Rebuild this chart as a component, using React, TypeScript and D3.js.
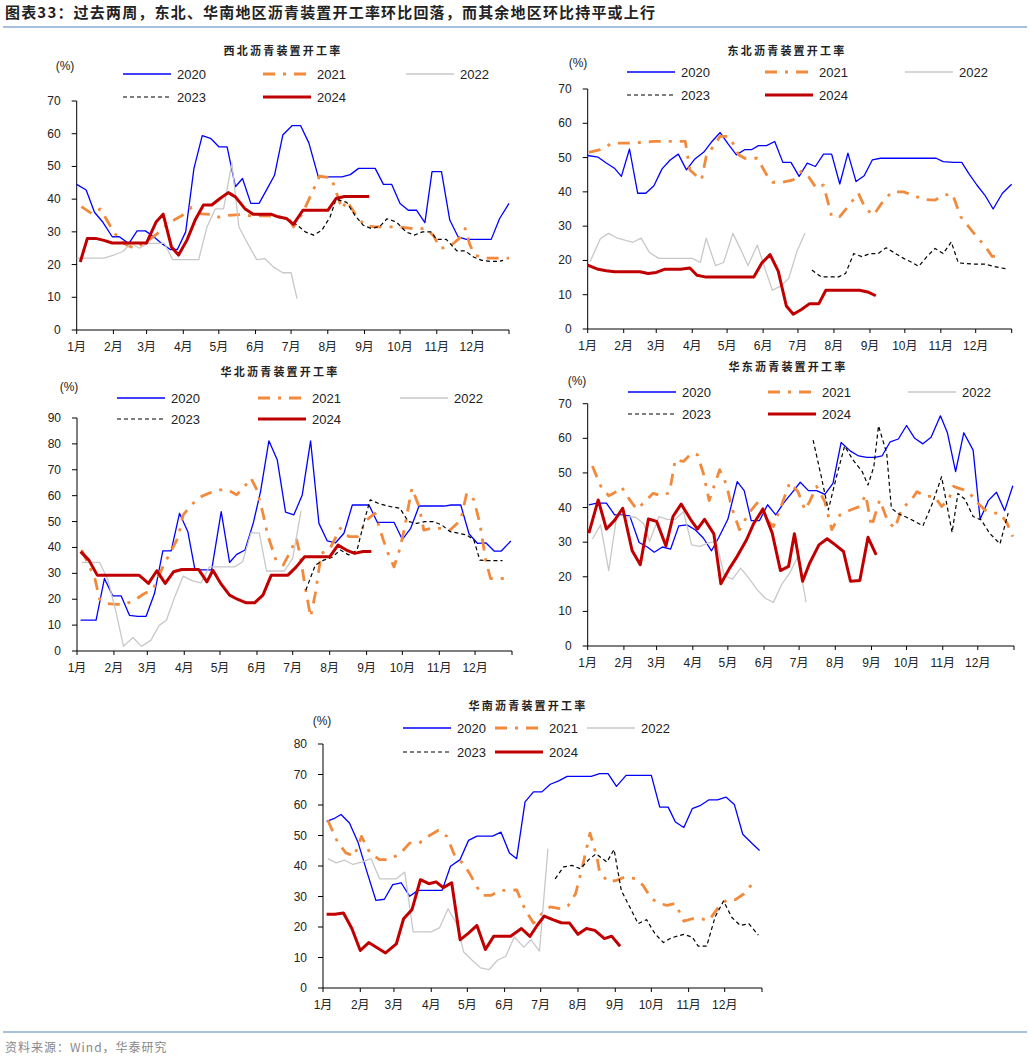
import React from 'react';
import * as d3 from 'd3';

// month axis: labels + day-of-year where each month starts
const monthLabels = ['1月', '2月', '3月', '4月', '5月', '6月', '7月', '8月', '9月', '10月', '11月', '12月'];
const monthStartDays = [0, 31, 59, 90, 120, 151, 181, 212, 243, 273, 304, 334, 365];
const years = ['2020', '2021', '2022', '2023', '2024'];

type Pt = [number, number]; // [day of year, rate %]

// 西北
const nw2020: Pt[] = [[0,44.5],[8,42.8],[15,36],[22,33],[30,28.5],[36,28.5],[44,26.4],[51,30.3],[58,30.3],[65,28.5],[72,26.4],[79,24.6],[85,24.6],[92,30],[99,49.4],[106,59.4],[113,58.6],[120,56],[127,56],[134,43.8],[140,46.3],[147,38.7],[154,38.7],[161,43.3],[167,47.3],[174,59.6],[182,62.5],[189,62.5],[196,57.2],[204,46.8],[211,46.8],[217,46.8],[224,46.8],[231,47.5],[238,49.4],[245,49.4],[252,49.4],[259,44.5],[266,44.5],[273,38.7],[280,36.6],[287,36.6],[294,32.8],[300,48.4],[308,48.4],[315,33.6],[322,28.5],[329,27.7],[336,27.7],[343,27.7],[350,27.7],[357,34],[365,38.7]];
const nw2021: Pt[] = [[4,37.7],[13,35.5],[20,37],[28,32],[35,28],[42,26],[49,25],[59,27],[70,30],[79,33],[89,35],[97,37.5],[105,35.5],[115,35.3],[120,34.5],[127,35],[138,35.3],[149,34.8],[160,35],[172,34.5],[180,33.5],[183,31.5],[191,36],[200,43],[205,47],[215,46.5],[224,37],[228,39.5],[235,35.5],[243,32],[252,31.5],[262,31.5],[273,31.5],[284,31],[294,31],[301,29],[307,25],[315,25.5],[323,28],[328,31],[332,26],[336,23],[343,22],[354,22],[365,22]];
const nw2022: Pt[] = [[0,22],[7,22],[15,22],[23,22],[32,23],[39,24],[46,26.5],[53,25],[60,26.5],[67,26.5],[74,26.5],[81,21.5],[88,21.5],[95,21.5],[103,21.5],[110,31.5],[117,37],[124,37],[131,51],[137,31.5],[145,26],[152,21.5],[159,21.8],[166,19.3],[174,17.5],[181,17.5],[186,9.6]];
const nw2023: Pt[] = [[183,33],[193,30],[200,29],[207,30.5],[214,34.6],[219,40],[228,39],[235,35],[242,32],[249,31],[256,31.7],[262,34],[270,33],[278,30],[285,29],[292,30],[299,30],[304,27.7],[312,27.7],[321,24.2],[328,24.2],[335,22.3],[342,21.3],[349,21],[357,21],[360,21.3]];
const nw2024: Pt[] = [[3,20.8],[9,28],[16,28],[23,27.4],[30,26.6],[37,26.6],[44,26.6],[51,26.6],[59,26.6],[67,33],[73,35.4],[80,25.4],[86,22.9],[93,27.4],[100,33.6],[107,38.2],[114,38.2],[121,40.2],[128,42],[134,40.7],[142,37.1],[149,35.4],[156,35.4],[164,35.4],[170,34.6],[177,34.1],[183,32.3],[191,36.6],[198,36.6],[205,36.6],[212,36.6],[219,40.2],[226,40.8],[233,40.8],[240,40.8],[247,40.8]];

// 东北
const ne2020: Pt[] = [[0,50.6],[9,50.1],[16,48.4],[23,46.9],[29,44.5],[36,52.5],[43,39.6],[50,39.6],[57,41.8],[64,46.7],[71,49.3],[78,51],[85,46.4],[92,49.5],[100,51.6],[107,54.7],[114,57.3],[121,53.9],[128,50.8],[135,52.3],[141,52.3],[147,53.5],[154,53.5],[161,54.7],[168,48.6],[175,48.6],[182,44.5],[189,48.4],[196,47.4],[203,51],[210,51],[217,42.3],[224,51.3],[231,43],[238,44.7],[245,49.3],[252,49.8],[259,49.8],[266,49.8],[273,49.8],[280,49.8],[287,49.8],[294,49.8],[300,49.8],[306,48.8],[315,48.6],[322,48.6],[328,45.4],[335,42],[342,39],[349,35],[357,39.6],[365,42.2]];
const ne2021: Pt[] = [[1,51.5],[11,52.3],[21,54.2],[34,54.2],[45,54.4],[57,54.7],[65,54.7],[75,54.7],[84,54.7],[88,46.4],[94,44.5],[98,43.5],[102,50.3],[108,53.2],[114,56.2],[121,56.2],[125,54.2],[130,50.8],[135,49.8],[146,49.8],[154,45],[159,42.8],[168,42.8],[177,43.5],[184,46],[190,44.5],[197,41],[203,42],[210,32.8],[217,32.8],[224,35.7],[233,39.6],[239,35.2],[246,33.2],[255,37.6],[262,40],[272,40],[280,39],[289,37.8],[299,37.6],[306,39],[314,39.4],[321,32.8],[328,29.8],[335,26.9],[342,24.2],[348,21.2],[355,21.2]];
const ne2022: Pt[] = [[2,19.6],[11,26.4],[18,27.9],[25,26.6],[32,25.9],[39,25.3],[46,26.5],[53,22.4],[61,20.6],[68,20.6],[75,20.6],[82,20.6],[90,20.6],[97,19.4],[102,26.5],[110,18.5],[117,19.4],[125,27.9],[132,23],[138,18.5],[146,24.5],[153,17.2],[159,11.3],[166,12.5],[173,14.7],[180,22.5],[187,27.9]];
const ne2023: Pt[] = [[193,17.2],[201,15.2],[209,15.2],[216,15.2],[222,16.2],[229,22],[236,21.1],[243,22],[250,22],[257,23.7],[265,22],[272,20.6],[278,19.6],[285,18.3],[292,21.1],[299,23.5],[306,22],[313,25.4],[319,19.3],[326,19.1],[333,18.9],[342,18.9],[349,18.3],[356,17.8],[362,17.5]];
const ne2024: Pt[] = [[0,18.6],[9,17.4],[16,17],[23,16.7],[30,16.7],[37,16.7],[45,16.7],[52,16.2],[59,16.5],[66,17.4],[73,17.4],[80,17.4],[88,17.8],[94,15.7],[101,15.2],[108,15.2],[115,15.2],[123,15.2],[130,15.2],[137,15.2],[143,15.2],[150,19.3],[157,21.7],[164,16.9],[171,6.7],[177,4.3],[184,5.7],[191,7.4],[199,7.4],[205,11.3],[212,11.3],[220,11.3],[227,11.3],[234,11.3],[241,10.8],[248,9.7]];

// 华北
const nc2020: Pt[] = [[3,11.9],[10,11.9],[16,11.9],[23,28],[30,21.3],[37,21.3],[44,13.8],[51,13.4],[58,13.4],[65,22.2],[72,38.7],[79,38.7],[86,53.2],[93,46.1],[99,31.3],[106,31.3],[113,31.3],[121,53.8],[128,34.2],[134,37.3],[141,39],[148,49.6],[154,61.6],[161,81.2],[168,73.9],[175,53.6],[182,52.6],[189,60.3],[196,81.2],[203,49.3],[210,42.5],[217,41.8],[224,45.5],[231,56.4],[238,56.4],[245,56.4],[252,49.7],[259,49.7],[266,49.7],[273,43.1],[280,47.4],[287,56],[294,56],[301,56],[308,56],[314,56.4],[322,56.4],[329,45.2],[336,41.6],[343,41.8],[350,38.6],[356,38.6],[364,42.5]];
const nc2021: Pt[] = [[4,39],[8,35],[15,28],[19,20],[25,18.3],[33,18],[40,18],[48,19.6],[56,22],[64,24],[72,32.5],[78,37.7],[85,44],[89,52.5],[96,56.4],[103,59.4],[111,61],[118,62.2],[127,62.2],[134,60.3],[141,63.8],[146,66.8],[151,62.2],[156,53.2],[160,44.8],[167,35],[173,33.2],[179,38.4],[184,43.5],[187,37.7],[191,26],[196,13.2],[200,22.2],[205,37.7],[212,39.3],[221,47.4],[228,44.2],[236,44.2],[243,50.6],[250,53.2],[257,42.9],[261,37.7],[266,32.5],[271,39.6],[275,48],[281,62.9],[287,55.8],[291,46.7],[298,47.4],[305,47.4],[313,46.7],[322,50.6],[327,61],[333,58.4],[338,49.3],[343,35],[347,28],[354,28],[362,28]];
const nc2022: Pt[] = [[4,34.2],[11,34.2],[19,34.2],[26,27.4],[33,14.5],[39,1.8],[47,5.2],[54,1.8],[62,4.1],[69,9.9],[75,11.9],[82,20.9],[89,28.9],[97,27.1],[104,26.3],[111,32.5],[118,32.5],[125,32.5],[132,32.5],[139,34.5],[146,45.7],[153,45.5],[159,30.9],[167,30.9],[174,30.9],[181,35.8],[188,54.2]];
const nc2023: Pt[] = [[192,23.5],[200,33.2],[207,35.1],[214,36.2],[221,39],[228,37.1],[235,39],[242,51.9],[246,58.4],[254,56.8],[263,55.8],[271,55.1],[278,50],[285,49.3],[292,50],[299,50],[306,48.7],[313,46.1],[320,45.5],[327,44.8],[333,42.9],[338,35.1],[345,34.9],[352,34.9],[357,34.9]];
const nc2024: Pt[] = [[3,38.4],[10,35.1],[17,29.3],[24,29.3],[31,29.3],[38,29.3],[45,29.3],[52,29.3],[60,26.1],[67,31],[74,26.1],[81,30.6],[88,31.5],[95,31.5],[102,31.5],[109,26.7],[114,31.2],[121,25.8],[128,21.6],[135,19.9],[142,18.6],[149,18.6],[156,21.6],[163,29.3],[170,29.3],[177,29.3],[184,32.5],[191,36.4],[198,36.4],[205,36.4],[212,36.4],[219,40.9],[226,39],[233,37.7],[240,38.4],[247,38.4]];

// 华东
const ec2020: Pt[] = [[1,40.8],[8,41.3],[16,41.3],[23,37.9],[29,37.9],[36,37.6],[44,29.9],[51,28.6],[57,27.1],[64,28.6],[71,28],[78,34.7],[85,35],[92,33.6],[99,31.2],[106,27.5],[112,31.2],[120,36.6],[128,47.5],[134,44.9],[140,36.2],[147,36.2],[154,40.8],[161,37.9],[168,41.4],[175,44.3],[182,47.3],[189,44.9],[196,44.9],[203,43.8],[210,47],[217,58.8],[225,56.3],[232,54.9],[239,54.5],[246,54.5],[252,54.9],[259,59],[266,59.8],[273,63.7],[280,60],[287,58.4],[294,60.3],[302,66.5],[308,61.6],[315,50.4],[322,61.6],[330,56.6],[336,36.6],[343,42],[350,44.4],[357,39.1],[364,46.3]];
const ec2021: Pt[] = [[4,52],[11,46.3],[18,43.4],[23,44.3],[29,45.9],[36,42.2],[42,39.5],[49,41.7],[56,44.1],[63,43.4],[70,44.3],[75,53.9],[82,53.3],[89,55.7],[94,55.2],[99,49.9],[104,42],[109,47],[113,50.9],[119,46.5],[123,40.3],[130,33.6],[138,38.4],[145,41.3],[152,36.9],[159,34.5],[165,39.8],[173,47.2],[180,44.6],[186,39.3],[190,41.7],[196,46.1],[203,41.7],[209,33.6],[216,37.9],[225,39.3],[233,40.3],[238,43.7],[243,34.5],[250,42.2],[257,36],[263,34],[269,39.8],[276,41.7],[282,44.6],[289,43.2],[297,43.2],[303,40.3],[309,42.2],[313,46.1],[322,45.1],[327,44.1],[334,41.3],[340,39.3],[347,38.4],[353,38.4],[359,35.5],[364,31.6]];
const ec2022: Pt[] = [[4,30.9],[11,35],[18,21.8],[25,37.9],[33,37.4],[41,37.2],[48,35.3],[53,30.2],[61,37.4],[68,36.6],[75,36.6],[82,38.8],[89,29.2],[96,28.8],[103,29.7],[110,30.2],[117,20.3],[124,19.3],[131,22.5],[138,19.6],[145,16.3],[152,13.8],[159,12.6],[166,17.7],[173,21.1],[180,25.9],[187,12.6]];
const ec2023: Pt[] = [[193,59.5],[200,48.9],[206,39.3],[213,48.9],[220,57.8],[227,53.8],[235,50.4],[240,46.5],[245,51.8],[249,63.6],[256,55.7],[260,39.8],[266,38.2],[273,37.2],[280,36],[287,34.7],[295,41.1],[303,48.9],[312,32.8],[317,44.1],[323,42.4],[330,37.4],[337,36.4],[344,32.6],[353,29.5],[360,38.4]];
const ec2024: Pt[] = [[1,32.6],[9,42.2],[16,33.8],[23,36.3],[30,39.8],[38,27.6],[45,23.5],[52,36.7],[59,36],[67,28.9],[73,37.4],[80,41],[88,36.6],[94,33.8],[100,36.6],[108,32.4],[114,18],[121,22.2],[128,25.9],[136,30.7],[142,35.3],[150,39.6],[158,32.6],[165,21.8],[172,23],[177,32.4],[184,18.7],[190,23.9],[198,29.2],[205,31],[212,29.2],[219,27.3],[225,18.7],[233,18.9],[240,31.4],[247,26.3]];

// 华南
const sc2020: Pt[] = [[3,54.6],[9,55.5],[15,56.9],[22,54.1],[29,47.9],[37,37.5],[44,28.7],[51,29.1],[58,33.9],[65,34.5],[72,30.1],[79,32],[86,32],[93,32],[99,32],[106,39.9],[114,42.1],[121,48.4],[128,49.8],[135,49.8],[141,49.8],[148,51.1],[155,44.3],[161,42.4],[168,61],[175,64.3],[182,64.3],[189,66.8],[196,67.9],[203,69.4],[210,69.4],[217,69.4],[223,69.4],[230,70.3],[237,70.3],[244,66.1],[252,69.7],[259,69.7],[266,69.7],[273,69.7],[280,59.3],[287,59.3],[293,54.4],[300,52.6],[307,58.8],[314,59.9],[321,61.7],[328,61.7],[335,62.6],[342,60.2],[349,50.4],[357,47.3],[363,45.1]];
const sc2021: Pt[] = [[4,55],[12,47.9],[19,44.3],[26,43.2],[32,49.7],[39,44.3],[47,42.1],[55,42.1],[64,44],[72,47.5],[80,47.5],[89,50.1],[96,51.7],[103,49.7],[110,42.9],[116,41],[122,37.5],[128,33.1],[133,30.4],[140,30.4],[147,32],[154,32],[161,32.2],[168,25.7],[175,21.3],[182,24.4],[189,26.6],[197,26],[204,27.1],[210,30.9],[215,38.6],[222,50.8],[228,42.4],[230,38],[237,34.8],[244,35.3],[251,36.4],[260,35.8],[266,33.7],[273,29.3],[280,27.7],[286,27.1],[293,27.7],[300,21.9],[307,22.7],[314,22.7],[321,22.2],[329,26.6],[336,29],[343,29],[350,30.9],[357,34.2],[362,34.2]];
const sc2022: Pt[] = [[4,42.4],[11,41],[18,41.9],[25,40.5],[32,41.3],[40,42.4],[47,35.8],[54,35.8],[61,35.8],[68,38],[75,18.4],[83,18.4],[90,18.4],[97,19.8],[104,26],[111,21.1],[117,11.8],[124,9.1],[131,6.6],[138,6],[145,9.1],[152,10.4],[159,16.7],[167,13.4],[173,15.8],[180,12.1],[187,45.7]];
const sc2023: Pt[] = [[193,35.8],[200,39.7],[207,40.2],[214,39.1],[221,42.1],[227,44],[236,41.3],[242,45.4],[248,32],[255,26.6],[262,21.1],[269,22.4],[276,17.8],[283,14.9],[290,16.5],[300,17.6],[307,16.7],[312,13.7],[319,13.7],[326,23.3],[333,28.5],[340,23.1],[347,20.5],[354,21.1],[362,17.3]];
const sc2024: Pt[] = [[3,24.2],[10,24.2],[17,24.6],[24,19.5],[31,12.3],[38,14.9],[45,13.2],[52,11.5],[61,14.5],[67,22.7],[74,25.7],[81,35.5],[88,34.2],[94,34.8],[100,32.9],[107,34.5],[114,15.8],[121,18],[128,20.5],[135,12.6],[142,17],[149,17],[156,17],[165,19.5],[172,16.9],[178,20.5],[184,23.6],[191,22.4],[198,21.4],[205,21.3],[212,17.6],[219,19.5],[226,18.9],[234,16.2],[240,17],[247,13.7]];

const styles: Record<string, { color: string; width: number; dash?: string; legendLen: number }> = {
  '2020': { color: '#0000FF', width: 1.3, legendLen: 48 },
  '2021': { color: '#F28A3D', width: 2.8, dash: '12,8,3,8', legendLen: 43 },
  '2022': { color: '#C8C8C8', width: 1.3, legendLen: 48 },
  '2023': { color: '#000000', width: 1.2, dash: '4,3', legendLen: 48 },
  '2024': { color: '#C00000', width: 3, legendLen: 48 },
};

const FONT = "'Liberation Sans', Arial, 'Noto Sans CJK SC', sans-serif";
const CJK = "'Noto Sans CJK SC', sans-serif";

interface PanelProps {
  title: string;
  series: Pt[][];
  yMax: number;
  left: number; right: number; top: number; bottom: number;
  titleX: number; titleY: number;
  pctX: number; pctY: number;
  legendCols: number[]; legendRows: number[];
}

const Panel = (p: PanelProps) => {
  const x = d3.scaleLinear().domain([0, 365]).range([p.left, p.right]);
  const y = d3.scaleLinear().domain([0, p.yMax]).range([p.bottom, p.top]);
  const line = d3.line<Pt>().x(d => x(d[0])).y(d => y(d[1]));
  const yTicks = d3.range(0, p.yMax + 1, 10);

  const legendPos = [
    [p.legendCols[0], p.legendRows[0]],
    [p.legendCols[1], p.legendRows[0]],
    [p.legendCols[2], p.legendRows[0]],
    [p.legendCols[0], p.legendRows[1]],
    [p.legendCols[1], p.legendRows[1]],
  ];

  return (
    <g>
      <text x={p.titleX} y={p.titleY + 4} textAnchor="middle" fontFamily={CJK} fontSize={11}
        fontWeight="bold" letterSpacing={2.2} fill="#222">{p.title}</text>
      <text x={p.pctX} y={p.pctY + 4} textAnchor="middle" fontFamily={FONT} fontSize={12} fill="#222">(%)</text>

      {years.map((yr, i) => {
        const s = styles[yr];
        const [lx, ly] = legendPos[i];
        return (
          <g key={yr}>
            <line x1={lx} x2={lx + s.legendLen} y1={ly} y2={ly} stroke={s.color} strokeWidth={s.width}
              strokeDasharray={s.dash} />
            <text x={lx + 54} y={ly + 5} fontFamily={FONT} fontSize={13} fill="#222">{yr}</text>
          </g>
        );
      })}

      {/* y axis */}
      <line x1={p.left} x2={p.left} y1={p.top} y2={p.bottom} stroke="#000" strokeWidth={1} />
      {yTicks.map(t => (
        <g key={t}>
          <line x1={p.left - 5} x2={p.left} y1={y(t)} y2={y(t)} stroke="#000" />
          <text x={p.left - 16} y={y(t) + 4} textAnchor="end" fontFamily={FONT} fontSize={12} fill="#222">{t}</text>
        </g>
      ))}

      {/* x axis */}
      <line x1={p.left} x2={p.right} y1={p.bottom} y2={p.bottom} stroke="#000" strokeWidth={1} />
      {monthStartDays.map(d => (
        <line key={d} x1={x(d)} x2={x(d)} y1={p.bottom} y2={p.bottom + 4} stroke="#000" />
      ))}
      {monthLabels.map((m, i) => (
        <text key={m} x={x(monthStartDays[i])} y={p.bottom + 21} textAnchor="middle" fontFamily={FONT}
          fontSize={12} fill="#222">{m}</text>
      ))}

      {p.series.map((data, i) => {
        const s = styles[years[i]];
        return (
          <path key={i} d={line(data) || ''} fill="none" stroke={s.color} strokeWidth={s.width}
            strokeDasharray={s.dash} strokeLinejoin="round" />
        );
      })}
    </g>
  );
};

const App = () => {
  return (
    <svg width={1030} height={1060} style={{ position: 'absolute', left: 0, top: 0, background: '#fff' }}>
      <rect width={1030} height={1060} fill="#fff" />
      <text x={5} y={18} fontFamily={CJK} fontSize={15} fontWeight="bold" fill="#222"
        textLength={650} lengthAdjust="spacing">图表33：过去两周，东北、华南地区沥青装置开工率环比回落，而其余地区环比持平或上行</text>
      <line x1={3} x2={1027} y1={27} y2={27} stroke="#4F81BD" strokeWidth={1.2} />

      <Panel title="西北沥青装置开工率" series={[nw2020, nw2021, nw2022, nw2023, nw2024]} yMax={70}
        left={76.7} right={509} top={101} bottom={330} titleX={283} titleY={51} pctX={65} pctY={66}
        legendCols={[123, 263, 406]} legendRows={[74, 97]} />
      <Panel title="东北沥青装置开工率" series={[ne2020, ne2021, ne2022, ne2023, ne2024]} yMax={70}
        left={587.7} right={1011.7} top={89} bottom={329} titleX={787} titleY={51} pctX={578} pctY={63}
        legendCols={[627, 765, 905]} legendRows={[72, 95]} />
      <Panel title="华北沥青装置开工率" series={[nc2020, nc2021, nc2022, nc2023, nc2024]} yMax={90}
        left={77} right={512} top={418} bottom={651} titleX={280} titleY={372} pctX={69} pctY={387}
        legendCols={[117, 258, 400]} legendRows={[398, 419]} />
      <Panel title="华东沥青装置开工率" series={[ec2020, ec2021, ec2022, ec2023, ec2024]} yMax={70}
        left={587.7} right={1014} top={403.7} bottom={646} titleX={788} titleY={367} pctX={577} pctY={381}
        legendCols={[628, 768, 908]} legendRows={[392, 414]} />
      <Panel title="华南沥青装置开工率" series={[sc2020, sc2021, sc2022, sc2023, sc2024]} yMax={80}
        left={323} right={762} top={744} bottom={988} titleX={528} titleY={706} pctX={322} pctY={721}
        legendCols={[403, 495, 587]} legendRows={[728, 752]} />

      <line x1={3} x2={1027} y1={1032} y2={1032} stroke="#4F81BD" strokeWidth={1.2} />
      <text x={5} y={1052} fontFamily={CJK} fontSize={12} fill="#888" letterSpacing={1}>资料来源：Wind，华泰研究</text>
    </svg>
  );
};

export default App;
